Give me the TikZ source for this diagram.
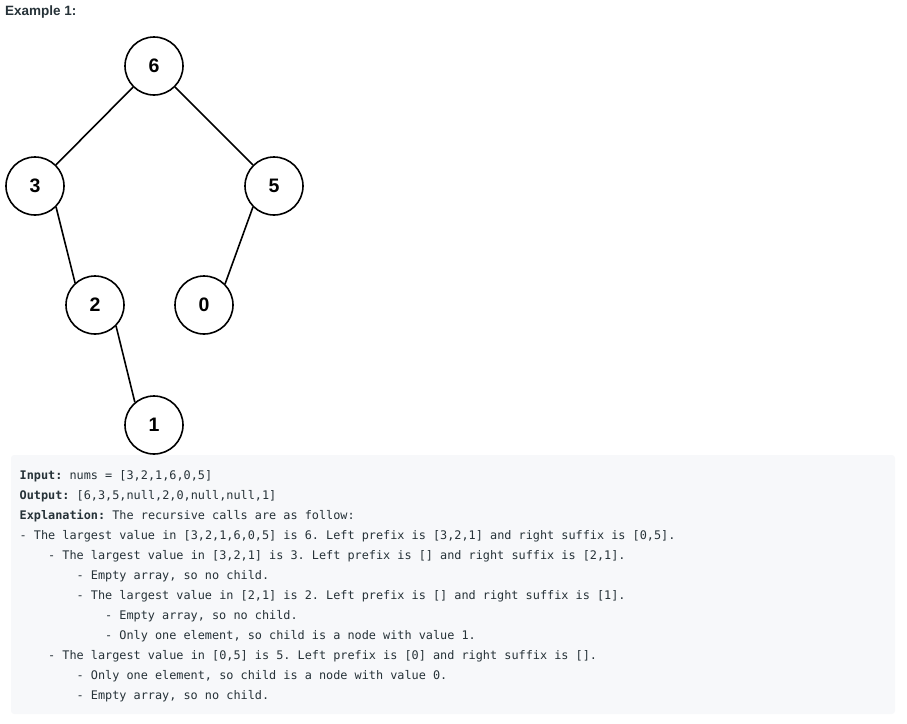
\documentclass[tikz,border=0pt]{standalone}
\usepackage{fontspec}
\setmainfont{Liberation Sans}
\setmonofont{DejaVu Sans Mono}
\usetikzlibrary{positioning}

\definecolor{boxgray}{RGB}{247,248,250}
\definecolor{inkgray}{RGB}{38,50,56}

\tikzset{
    treenode/.style={circle, draw, line width=1.6pt, minimum size=58pt, inner sep=0pt,
        font=\fontsize{19.5}{20}\selectfont\bfseries},
    treeedge/.style={line width=1.6pt},
    codeline/.style={anchor=base west, inner sep=0pt, text=inkgray,
        font=\fontsize{11.84}{20}\selectfont\ttfamily},
}

\begin{document}
\begin{tikzpicture}[x=1pt, y=-1pt]
    \useasboundingbox (0,0) rectangle (907,723);

    % Heading
    \node[anchor=base west, inner sep=0pt, text=inkgray, font=\fontsize{13.5}{16}\selectfont\bfseries]
        (title) at (5,15.5) {Example 1:};

    % Tree
    \node[treenode] (n6) at (154,66) {6};
    \node[treenode] (n3) at (35,186) {3};
    \node[treenode] (n5) at (274,186) {5};
    \node[treenode] (n2) at (95,305) {2};
    \node[treenode] (n0) at (204,305) {0};
    \node[treenode] (n1) at (154,425) {1};

    \draw[treeedge] (n6) -- (n3);
    \draw[treeedge] (n6) -- (n5);
    \draw[treeedge] (n3.-45) -- (n2.132);
    \draw[treeedge] (n5.-135) -- (n0.45);
    \draw[treeedge] (n2.-45) -- (n1.130);

    % Explanation box
    \fill[boxgray, rounded corners=3pt] (11,455) rectangle (895,714);

    \node[codeline] (l1) at (19.5,479) {\textbf{Input:} nums = [3,2,1,6,0,5]};
    \node[codeline] (l2) at (19.5,499) {\textbf{Output:} [6,3,5,null,2,0,null,null,1]};
    \node[codeline] (l3) at (19.5,519) {\textbf{Explanation:} The recursive calls are as follow:};
    \node[codeline] (l4) at (19.5,539) {- The largest value in [3,2,1,6,0,5] is 6. Left prefix is [3,2,1] and right suffix is [0,5].};
    \node[codeline] (l5) at (48,559) {- The largest value in [3,2,1] is 3. Left prefix is [] and right suffix is [2,1].};
    \node[codeline] (l6) at (76.5,579) {- Empty array, so no child.};
    \node[codeline] (l7) at (76.5,599) {- The largest value in [2,1] is 2. Left prefix is [] and right suffix is [1].};
    \node[codeline] (l8) at (105,619) {- Empty array, so no child.};
    \node[codeline] (l9) at (105,639) {- Only one element, so child is a node with value 1.};
    \node[codeline] (l10) at (48,659) {- The largest value in [0,5] is 5. Left prefix is [0] and right suffix is [].};
    \node[codeline] (l11) at (76.5,679) {- Only one element, so child is a node with value 0.};
    \node[codeline] (l12) at (76.5,699) {- Empty array, so no child.};
\end{tikzpicture}
\end{document}
